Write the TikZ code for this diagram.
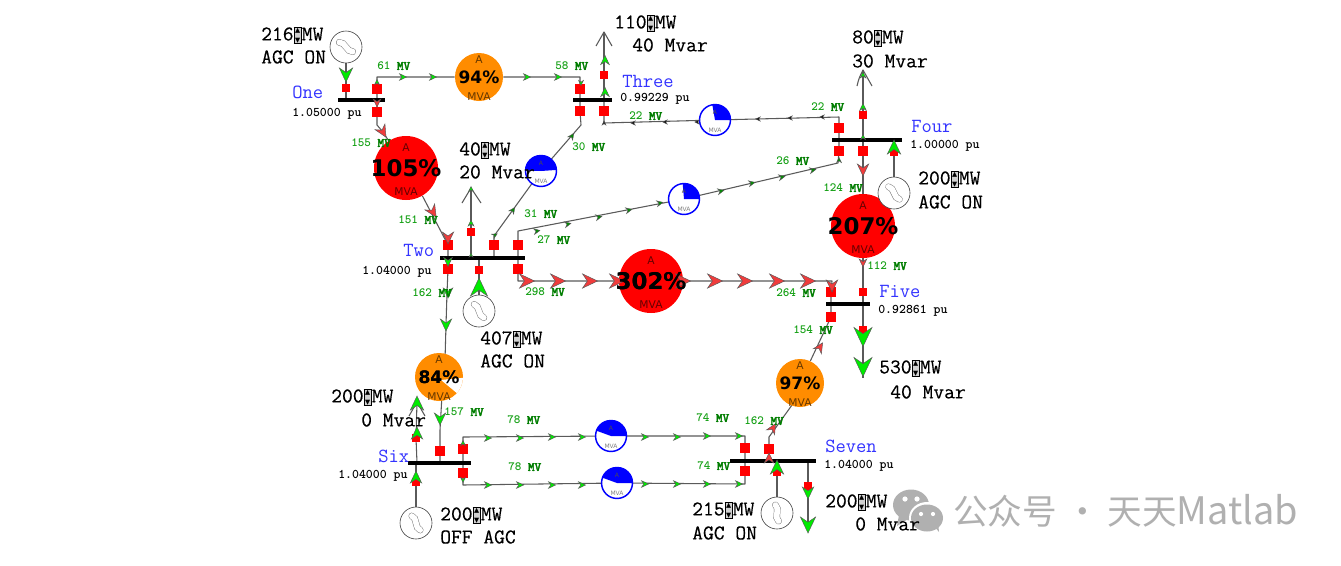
\documentclass[tikz,border=0pt]{standalone}
\usepackage{fontspec}
\usetikzlibrary{backgrounds,calc}
\newfontfamily\cjkf{Noto Sans CJK SC}
\newfontfamily\djv{DejaVu Sans}
\newfontfamily\monof[FakeBold=0.35]{Latin Modern Mono}
\newfontfamily\mvf[FakeBold=3]{Latin Modern Mono}
\definecolor{orgauge}{RGB}{255,140,0}
\definecolor{redg}{RGB}{255,0,0}
\definecolor{blueg}{RGB}{0,0,255}
\definecolor{flowred}{RGB}{240,60,60}
\definecolor{flowgreen}{RGB}{0,235,0}
\definecolor{numgreen}{RGB}{20,160,20}
\definecolor{mvgreen}{RGB}{0,125,0}
\definecolor{wm}{RGB}{176,176,176}
\definecolor{wire}{RGB}{90,90,90}
\tikzset{
  conn/.style={draw=wire,line width=.8pt,line join=round},
  busbar/.style={draw=none,fill=black,minimum height=3pt,inner sep=0pt,rectangle},
  bigsq/.style={draw=none,fill=red,minimum size=7pt,inner sep=0pt,rectangle},
  smallsq/.style={draw=none,fill=red,minimum size=5.4pt,inner sep=0pt,rectangle},
  genc/.style={circle,draw=black!75,line width=.45pt,fill=white,minimum size=24pt,inner sep=0pt},
  mono/.style={anchor=west,inner sep=0pt,text height=9.6pt,text depth=0pt,font=\monof\fontsize{15.7}{18}\selectfont,text=black},
  busname/.style={anchor=west,inner sep=0pt,font=\fontsize{15}{18}\ttfamily,text=blue!80!white},
  pulab/.style={anchor=west,inner sep=0pt,font=\fontsize{9.9}{12}\ttfamily\bfseries,text=black},
  flowlab/.style={anchor=west,inner sep=0pt,font=\fontsize{9.4}{12}\ttfamily\bfseries,text=numgreen},
  minilab/.style={inner sep=0pt,font=\djv\fontsize{8}{9}\selectfont,text=black!55!red},
  openhead/.style={draw=wire,line width=.8pt,line join=round},
}
\newcommand\spn{{\setlength\fboxsep{0pt}\setlength\fboxrule{.5pt}\raisebox{-1.6pt}{\fcolorbox{black}{black!18}{\makebox[5.2pt]{\vbox to 11pt{\baselineskip=5.5pt\lineskip=0pt\hbox{\djv\fontsize{5}{5}\selectfont ▲}\vfil\hbox{\djv\fontsize{5}{5}\selectfont ▼}}}}}}}
\newcommand\mvl[3]{\node[flowlab] at (#1,#2) {#3 {\mvf\fontsize{9.4}{12}\selectfont\textcolor{mvgreen}{MV}}};}
% x y angle size colour
\newcommand\fm[5]{\filldraw[shift={(#1,#2)},rotate=#3,fill=#5,draw=black!65,line width=.35pt,line join=miter] (#4,0) -- (-#4,.95*#4) -- (-.35*#4,0) -- (-#4,-.95*#4) -- cycle;}
\newcommand\gaugebig[9]{%
  \node[circle,fill=#5,draw=none,minimum size=2*#4*.75pt,inner sep=0pt] (#1) at (#2,#3) {};
  \node[inner sep=0pt,font=\djv\bfseries\fontsize{#7}{#7}\selectfont,text=black] at (#1.center) {#6};
  \node[minilab,text=#9] at ($(#1.center)+(0,#8)$) {A};
  \node[minilab,text=#9] at ($(#1.center)+(0,{#8*-1.18})$) {MVA};
}
\newcommand\pieg[5]{%
  \node[circle,fill=white,draw=none,minimum size=23.5pt,inner sep=0pt] (#1) at (#2,#3) {};
  \fill[blueg] (#1.center) -- ($(#1.center)+(#4:12pt)$) arc[start angle=#4,end angle=#5,radius=12pt] -- cycle;
  \draw[blueg,line width=1.1pt] (#1.center) circle[radius=11.6pt];
  \node[inner sep=0pt,font=\djv\fontsize{4.5}{5}\selectfont,text=black!70] at (#2,#3-8) {A};
  \node[inner sep=0pt,font=\djv\fontsize{4.5}{5}\selectfont,text=black!50] at (#2,#3+10) {MVA};
}
\newcommand\gensym[2]{\draw[shift={(#1.center)},rotate=#2,draw=black!55,double=white,double distance=4.2pt,line width=.35pt,line cap=round] (-8,-2) .. controls (-3,-5) and (3,5) .. (8,2);}
\begin{document}
\begin{tikzpicture}[x=.75pt,y=-.75pt]
\useasboundingbox (0,0) rectangle (1341,565);
% watermark
\fill[wm] (911,505) ellipse[x radius=18,y radius=15.5];
\fill[wm] (899,515) -- (897,526) -- (908,519) -- cycle;
\fill[white] (927,518) ellipse[x radius=18,y radius=16];
\fill[wm] (927,518) ellipse[x radius=16,y radius=13.5];
\fill[wm] (934,526) -- (939,532) -- (938,522) -- cycle;
\fill[white] (905,499) circle[radius=2.6] (917,499) circle[radius=2.6] (921,514) circle[radius=2.1] (933,514) circle[radius=2.1];
\node[anchor=west,inner sep=0pt,font=\cjkf\fontsize{26}{30}\selectfont,text=wm] (wmk) at (953,511) {公众号 · 天天{\fontsize{28.4}{30}\selectfont Matlab}};
% buses
\node[busbar,minimum width=35.25pt] (busOne) at (361.5,100) {};
\node[busbar,minimum width=29.25pt] (busThree) at (592.5,100) {};
\node[busbar,minimum width=52.5pt] (busFour) at (867,140) {};
\node[busbar,minimum width=64pt] (busTwo) at (482.5,258) {};
\node[busbar,minimum width=33pt] (busFive) at (848,304) {};
\node[busbar,minimum width=47.25pt] (busSix) at (439,463) {};
\node[busbar,minimum width=64.5pt] (busSeven) at (773,461) {};
% gauges
\gaugebig{gA}{406}{168}{32}{redg}{105\%}{17.2}{-20}{black!60!red}
\gaugebig{gB}{479}{77}{24}{orgauge}{94\%}{12.8}{-17}{black!60!orgauge}
\gaugebig{gC}{863}{226}{32}{redg}{207\%}{17.2}{-20}{black!60!red}
\gaugebig{gD}{651}{281}{32}{redg}{302\%}{17.2}{-20}{black!60!red}
\gaugebig{gE}{439}{377}{24}{orgauge}{84\%}{12.8}{-17}{black!60!orgauge}
\gaugebig{gF}{800}{383}{24}{orgauge}{97\%}{12.8}{-17}{black!60!orgauge}
\fill[white] ($(gE.center)+(2,3)$) -- ($(gE.center)+(-2:18pt)$) arc[start angle=-2,end angle=-42,radius=18pt] -- cycle;
\node[inner sep=0pt,font=\djv\bfseries\fontsize{12.8}{12.8}\selectfont] at (gE.center) {84\%};
% pies
\pieg{pA}{715}{120}{0}{100}
\pieg{pB}{684}{199}{0}{95}
\pieg{pC}{541}{171}{4}{178}
\pieg{pD}{611}{436}{0}{160}
\pieg{pE}{617}{483}{0}{160}
% generators
\node[genc] (genOne) at (346,47) {};
\node[genc] (genTwo) at (479,311) {};
\node[genc] (genFour) at (894,193) {};
\node[genc] (genSix) at (416,523) {};
\node[genc] (genSeven) at (777,513) {};
\gensym{genOne}{-20}
\gensym{genTwo}{-40}
\gensym{genFour}{-35}
\gensym{genSix}{-45}
\gensym{genSeven}{-65}
% squares
\node[smallsq] (sGenOne) at (346,88) {};
\node[bigsq] (sOneR) at (377,89) {};
\node[bigsq] (sOneD) at (377,112) {};
\node[bigsq] (sThreeL) at (580,89) {};
\node[bigsq] (sThreeLd) at (580,111) {};
\node[bigsq] (sThreeRd) at (604,111) {};
\node[smallsq] (sThreeLoad) at (604,75) {};
\node[bigsq] (sFourU) at (839,128) {};
\node[bigsq] (sFourD) at (839,151) {};
\node[bigsq] (sFourM) at (863,151) {};
\node[smallsq] (sFourLoad) at (863,115) {};
\node[smallsq] (sFourGen) at (894,152) {};
\node[bigsq] (sTwoA) at (448,245) {};
\node[smallsq] (sTwoLoad) at (471,232) {};
\node[bigsq] (sTwoB) at (494,245) {};
\node[bigsq] (sTwoC) at (518,245) {};
\node[bigsq] (sTwoD) at (448,269) {};
\node[smallsq] (sTwoGen) at (479,270) {};
\node[bigsq] (sTwoE) at (518,269) {};
\node[bigsq] (sFiveA) at (831,292) {};
\node[smallsq] (sFiveB) at (863,292) {};
\node[bigsq] (sFiveC) at (831,317) {};
\node[smallsq] (sFiveLoad) at (863,330) {};
\node[bigsq] (sSixA) at (440,451) {};
\node[smallsq] (sSixLoad) at (416,438) {};
\node[smallsq] (sSixGen) at (416,482) {};
\node[bigsq] (sSixU) at (463,449) {};
\node[bigsq] (sSixD) at (463,473) {};
\node[bigsq] (sSevU) at (745,448) {};
\node[bigsq] (sSevD) at (745,471) {};
\node[bigsq] (sSevF) at (769,449) {};
\node[smallsq] (sSevGen) at (777,472) {};
\node[smallsq] (sSevLoad) at (808,486) {};
% named end points and bends
\coordinate (b1) at (377,77);
\coordinate (b2) at (580,77);
\coordinate (b3) at (377,125);
\coordinate (b4) at (383,132);
\coordinate (b5) at (423,197);
\coordinate (b6) at (604,32);
\coordinate (b7) at (604,123);
\coordinate (b8) at (839,117);
\coordinate (b9) at (838,163);
\coordinate (b10) at (518,231);
\coordinate (b11) at (494,236);
\coordinate (b12) at (581,125);
\coordinate (b13) at (471,188);
\coordinate (b14) at (863,70);
\coordinate (b15) at (518,281);
\coordinate (b16) at (832,281);
\coordinate (b17) at (863,378);
\coordinate (b18) at (463,437);
\coordinate (b19) at (463,485);
\coordinate (b20) at (745,436);
\coordinate (b21) at (745,484);
\coordinate (b22) at (769,437);
\coordinate (b23) at (792,405);
\coordinate (b24) at (417,402);
\coordinate (b25) at (808,530);
\coordinate (b26) at (808,461);
\coordinate (b27) at (471,258);
\coordinate (b28) at (863,140);
\coordinate (b29) at (863,304);
\coordinate (b30) at (417,463);
\coordinate (b31) at (479,258);
\coordinate (b32) at (894,140);
\coordinate (b33) at (346,100);
\coordinate (b34) at (416,463);
\coordinate (b35) at (777,461);
\coordinate (b36) at (604,100);
\coordinate (b37) at (447,293);
\coordinate (b38) at (446,325);
\coordinate (b39) at (445,360);
\coordinate (b40) at (442,395);
\coordinate (b41) at (440,430);
\begin{scope}[on background layer]
\fill[white] (0,0) rectangle (1341,565);
\draw[conn] (genOne) -- (sGenOne.center) -- (b33);
\draw[conn] (sOneD.center) -- (sOneR.center) -- (b1) -- (gB) -- (b2) -- (sThreeL.center) -- (sThreeLd.center) -- (b12) -- (pC);
\draw[conn] (pC) -- (b11) -- (sTwoB.center) -- (sTwoB |- busTwo);
\draw[conn] (sOneD.center) -- (b3) -- (b4) -- (gA) -- (b5) -- (sTwoA.center) -- (sTwoD.center);
\draw[conn] (b36) -- (sThreeLoad.center) -- (b6);
\draw[conn] (b36) -- (sThreeRd.center) -- (b7) -- (pA) -- (b8) -- (sFourU.center) -- (sFourD.center) -- (b9) -- (pB) -- (b10) -- (sTwoC.center) -- (sTwoE.center) -- (b15) -- (gD) -- (b16) -- (sFiveA.center) -- (sFiveC.center) -- (gF);
\draw[conn] (b13) -- (sTwoLoad.center) -- (b27);
\draw[conn] (b14) -- (sFourLoad.center) -- (b28) -- (sFourM.center) -- (gC) -- (sFiveB.center) -- (b29) -- (sFiveLoad.center) -- (b17);
\draw[conn] (genFour) -- (sFourGen.center) -- (b32);
\draw[conn] (genTwo) -- (sTwoGen.center) -- (b31);
\draw[conn] (sTwoD.center) -- (b37) -- (b38) -- (b39);
\draw[conn] (b40) -- (b41) -- (sSixA.center) -- (sSixA |- busSix);
\draw[conn] (b24) -- (sSixLoad.center) -- (b30);
\draw[conn] (genSix) -- (sSixGen.center) -- (b34);
\draw[conn] (sSixD.center) -- (sSixU.center) -- (b18) -- (pD) -- (b20) -- (sSevU.center) -- (sSevD.center) -- (b21) -- (pE) -- (b19) -- (sSixD.center);
\draw[conn] (sSevF |- busSeven) -- (sSevF.center) -- (b22) -- (b23) -- (gF);
\draw[conn] (genSeven) -- (sSevGen.center) -- (b35);
\draw[conn] (b26) -- (sSevLoad.center) -- (b25);
\end{scope}
% open load chevrons
\draw[openhead] (596,46) -- (b6) -- (612,46);
\draw[openhead] (462,203) -- (b13) -- (481,203);
\draw[openhead] (857,86) .. controls (859,78) .. (b14) .. controls (867,78) .. (872,86);
\draw[openhead] (409,416) -- (b24) -- (425,416);
% flow marks: green
\fm{346}{75}{-90}{7}{flowgreen}
\fm{377}{82}{90}{2.5}{flowgreen}
\fm{403}{77}{0}{3.5}{flowgreen}
\fm{433}{77}{0}{3.5}{flowgreen}
\fm{527}{77}{0}{3.5}{flowgreen}
\fm{558}{77}{0}{3.5}{flowgreen}
\fm{581}{83}{-90}{2.5}{flowgreen}
\fm{605}{60}{90}{4.5}{flowgreen}
\fm{605}{92}{90}{4.5}{flowgreen}
\fm{604}{123}{90}{2}{black}
\fm{633}{123}{180}{2.2}{black}
\fm{665}{122}{180}{2.2}{black}
\fm{697}{122}{180}{2.2}{black}
\fm{758}{119}{180}{2.2}{black}
\fm{790}{118}{180}{2.2}{black}
\fm{822}{117}{180}{2.2}{black}
\fm{572}{136}{55}{3}{flowgreen!60!black}
\fm{513}{210}{55}{3}{flowgreen!60!black}
\fm{495}{235}{30}{2.5}{flowgreen!60!black}
\fm{537}{231}{10}{3}{flowgreen!60!black}
\fm{568}{224}{12}{3}{flowgreen!60!black}
\fm{599}{217}{12}{3}{flowgreen!60!black}
\fm{629}{210}{12}{3}{flowgreen!60!black}
\fm{660}{203}{12}{3}{flowgreen!60!black}
\fm{721}{191}{12}{3}{flowgreen!60!black}
\fm{752}{183}{12}{3}{flowgreen!60!black}
\fm{782}{177}{12}{3}{flowgreen!60!black}
\fm{813}{170}{12}{3}{flowgreen!60!black}
\fm{839}{160}{90}{2.5}{flowgreen!60!black}
\fm{471}{189}{90}{2.5}{flowgreen}
\fm{471}{223}{90}{3}{flowgreen}
\fm{471}{255}{90}{2}{flowgreen}
\fm{863}{75}{90}{3}{flowgreen}
\fm{863}{107}{90}{3.5}{flowgreen}
\fm{863}{137}{90}{2.5}{flowgreen}
\fm{894}{147}{90}{7}{flowgreen}
\fm{448}{262}{-90}{4.5}{flowgreen}
\fm{448}{293}{-90}{5}{flowgreen}
\fm{446}{325}{-90}{6}{flowgreen}
\fm{440}{419}{-90}{6}{flowgreen}
\fm{479}{287}{90}{9}{flowgreen}
\fm{417}{433}{90}{6}{flowgreen}
\fm{417}{403}{90}{7}{flowgreen}
\fm{416}{477}{90}{6}{flowgreen}
\foreach \px/\py in {488/438,520/438,552/437,582/437,645/437,677/437,707/436,739/436,488/485,520/485,552/485,582/485,645/484,677/484,707/484,739/484}{\fm{\px}{\py}{0}{3.5}{flowgreen}}
\fm{463}{443}{90}{2.5}{flowgreen}
\fm{463}{480}{-90}{2.5}{flowgreen}
\fm{777}{467}{90}{7}{flowgreen}
\fm{808}{493}{-90}{6}{flowgreen}
\fm{808}{525}{-90}{8}{flowgreen}
\fm{863}{337}{-90}{9.5}{flowgreen}
\fm{863}{367}{-90}{9.5}{flowgreen}
% flow marks: red
\fm{377}{103}{-90}{4}{flowred}
\fm{383}{132}{-60}{6}{flowred}
\fm{433}{212}{-58}{6}{flowred}
\fm{448}{238}{-90}{6}{flowred}
\fm{863}{170}{-90}{6}{flowred}
\fm{863}{263}{-90}{4}{flowred}
\foreach \px in {527,558,590,617,683,715,745,777,808}{\fm{\px}{281}{0}{7.5}{flowred}}
\fm{832}{286}{-90}{6}{flowred}
\fm{769}{458}{90}{5}{flowred}
\fm{773}{428}{60}{5}{flowred}
\fm{820}{347}{58}{5}{flowred}
% redraw percentages over the marks
\node[inner sep=0pt,font=\djv\bfseries\fontsize{17.2}{17.2}\selectfont] at (gD.center) {302\%};
% labels
\node[mono] (l1) at (261,34) {216\spn MW};
\node[mono] (l2) at (261,57) {AGC ON};
\node[mono] (l3) at (614,22) {110\spn MW};
\node[mono] (l4) at (632,45) {40 Mvar};
\node[mono] (l5) at (459,149) {40\spn MW};
\node[mono] (l6) at (459,172) {20 Mvar};
\node[mono] (l7) at (852,37) {80\spn MW};
\node[mono] (l8) at (852,61) {30 Mvar};
\node[mono] (l9) at (918,178) {200\spn MW};
\node[mono] (l10) at (918,202) {AGC ON};
\node[mono] (l11) at (480,338) {407\spn MW};
\node[mono] (l12) at (480,361) {AGC ON};
\node[mono] (l13) at (331,396) {200\spn MW};
\node[mono] (l14) at (361,420) {0 Mvar};
\node[mono] (l15) at (440,514) {200\spn MW};
\node[mono] (l16) at (440,537) {OFF AGC};
\node[mono] (l17) at (879,367) {530\spn MW};
\node[mono] (l18) at (890,392) {40 Mvar};
\node[mono] (l19) at (692,509) {215\spn MW};
\node[mono] (l20) at (692,533) {AGC ON};
\node[mono] (l21) at (825,501) {200\spn MW};
\node[mono] (l22) at (855,524) {0 Mvar};
\node[busname] (n1) at (292,92) {One};
\node[busname] (n2) at (403,250) {Two};
\node[busname] (n3) at (622,81) {Three};
\node[busname] (n4) at (911,126) {Four};
\node[busname] (n5) at (879,291) {Five};
\node[busname] (n6) at (378,456) {Six};
\node[busname] (n7) at (825,446) {Seven};
\node[pulab] (p1) at (292,114) {1.05000 pu};
\node[pulab] (p2) at (362,272) {1.04000 pu};
\node[pulab] (p3) at (620,99) {0.99229 pu};
\node[pulab] (p4) at (910,146) {1.00000 pu};
\node[pulab] (p5) at (878,311) {0.92861 pu};
\node[pulab] (p6) at (338,476) {1.04000 pu};
\node[pulab] (p7) at (824,466) {1.04000 pu};
\mvl{377}{66}{61}
\mvl{555}{66}{58}
\mvl{351}{143}{155}
\mvl{398}{220}{151}
\mvl{572}{147}{30}
\mvl{524}{214}{31}
\mvl{537}{240}{27}
\mvl{629}{116}{22}
\mvl{811}{107}{22}
\mvl{776}{161}{26}
\mvl{823}{188}{124}
\mvl{867}{266}{112}
\mvl{412}{293}{162}
\mvl{525}{292}{298}
\mvl{444}{412}{157}
\mvl{507}{420}{78}
\mvl{508}{467}{78}
\mvl{696}{418}{74}
\mvl{697}{466}{74}
\mvl{744}{421}{162}
\mvl{776}{293}{264}
\mvl{793}{330}{154}
\end{tikzpicture}
\end{document}
